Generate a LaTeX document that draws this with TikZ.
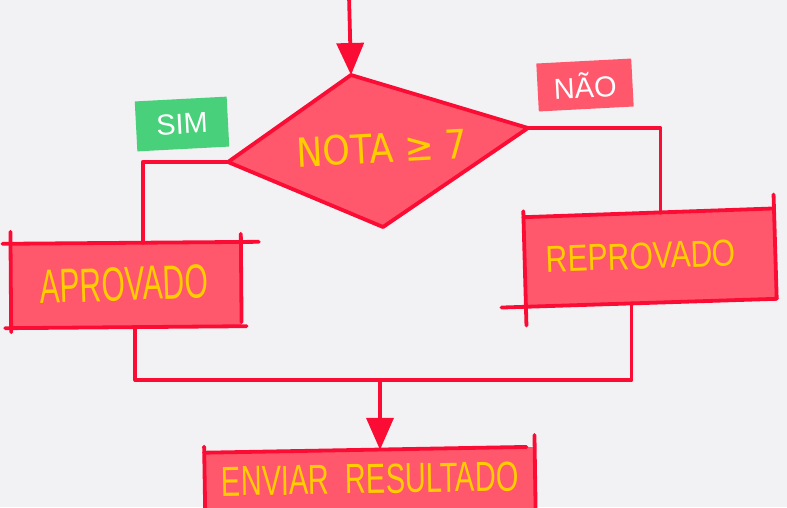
\documentclass[tikz,border=0pt]{standalone}
\usepackage{fontspec}
\setmainfont{Liberation Sans}
\newfontfamily\symfont{DejaVu Sans}
\usetikzlibrary{arrows.meta,calc}
\definecolor{bgc}{RGB}{242,241,243}
\definecolor{redline}{RGB}{250,12,52}
\definecolor{redfill}{RGB}{255,88,108}
\definecolor{txtyellow}{RGB}{255,205,0}
\definecolor{simgreen}{RGB}{72,208,122}
\begin{document}
\begin{tikzpicture}[x=1pt,y=-1pt,
  line/.style={draw=redline, line width=3.8pt, line cap=round, line join=round},
  arr/.style={line, -{Triangle[width=27pt,length=32pt]}},
  proc/.style={fill=redfill, inner sep=0pt},
  lbl/.style={text=txtyellow, inner sep=0pt},
  tag/.style={inner sep=0pt, text=white, font=\fontsize{29}{29}\selectfont}]
\fill[bgc] (0,0) rectangle (787,507);
\clip (0,0) rectangle (787,507);
\useasboundingbox (0,0) rectangle (787,507);

% process boxes
\node[proc, minimum width=230pt, minimum height=84pt, rotate=0.5] (aprov) at (126,285) {};
\node[proc, minimum width=250pt, minimum height=90pt, rotate=2] (reprov) at (650,258) {};
\node[proc, minimum width=330pt, minimum height=80pt, rotate=1] (enviar) at (370,490) {};

% sketchy box outlines
\draw[line] ([xshift=-8pt]aprov.north west) -- ([xshift=18pt]aprov.north east);
\draw[line] ([xshift=-6pt]aprov.south west) -- ([xshift=5pt]aprov.south east);
\draw[line] ([yshift=12pt]aprov.north west) -- ([yshift=-4pt]aprov.south west);
\draw[line] ([yshift=8pt]aprov.north east) -- ([yshift=4pt]aprov.south east);

\draw[line] (reprov.north west) -- (reprov.north east);
\draw[line] ([xshift=-25pt]reprov.south west) -- (reprov.south east);
\draw[line] ([yshift=6pt]reprov.north west) -- ([yshift=-18pt]reprov.south west);
\draw[line] ([yshift=14pt]reprov.north east) -- (reprov.south east);

\draw[line] (enviar.north west) -- ([xshift=-8pt]enviar.north east);
\draw[line] ([yshift=6pt]enviar.north west) -- (enviar.south west);
\draw[line] ([yshift=12pt]enviar.north east) -- (enviar.south east);

% decision diamond
\coordinate (dT) at (351,75);
\coordinate (dR) at (528,128);
\coordinate (dB) at (383,227);
\coordinate (dL) at (228,162);
\fill[redfill] (dT) -- (dR) -- (dB) -- (dL) -- cycle;
\draw[line] (dT) -- (dR) -- (dB) -- (dL) -- cycle;

% labels
\node[tag, fill=simgreen, minimum width=92pt, minimum height=50pt, rotate=3] (sim) at (182,124) {SIM};
\node[tag, fill=redfill, minimum width=95pt, minimum height=48pt, rotate=3] (nao) at (585,85) {NÃO};

% texts
\node[lbl, font=\symfont\fontsize{35}{35}\selectfont, rotate=3] (dtext) at (382,148) {\scalebox{1}[1.15]{NOTA ≥ 7}};
\node[lbl, font=\fontsize{30}{30}\selectfont, rotate=2] (atext) at (124,284) {\scalebox{1}[1.6]{APROVADO}};
\node[lbl, font=\fontsize{30}{30}\selectfont, rotate=2] (rtext) at (641,256) {\scalebox{1}[1.25]{REPROVADO}};
\node[lbl, font=\fontsize{29}{29}\selectfont, rotate=1] (etext) at (370,479) {\scalebox{1}[1.45]{ENVIAR\ \ RESULTADO}};

% connectors
\coordinate (start) at (349,-5);
\coordinate (jm) at (380,380);
\draw[arr] (start) -- (dT);
\draw[line] (dL) -| ([xshift=17pt]aprov.north);
\draw[line] (dR) -| ([xshift=12pt]reprov.north);
\draw[line] ([xshift=9pt]aprov.south) |- (jm);
\draw[line] (jm) -| ([xshift=-20pt]reprov.south);
\draw[arr] (jm) -- (jm |- enviar.north);
\end{tikzpicture}
\end{document}
